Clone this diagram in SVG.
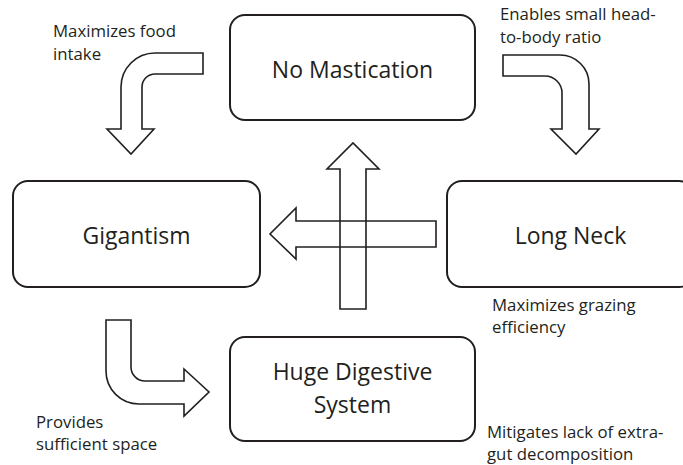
<svg xmlns="http://www.w3.org/2000/svg" width="683" height="465" viewBox="0 0 683 465">
<style>
.box{fill:#fff;stroke:#231f20;stroke-width:2}
.lbl{font-family:"Open Sans","Noto Sans",sans-serif;font-size:23px;fill:#231f20;text-anchor:middle}
.note{font-family:"Open Sans","Noto Sans",sans-serif;font-size:16.8px;fill:#231f20}
.arr{fill:none;stroke:#231f20;stroke-width:1.6;stroke-linejoin:miter}
</style>
<rect width="683" height="465" fill="#fff"/>
<g id="connectors">
<path class="arr" d="M203,53 H155 A34,34 0 0 0 121,87 V129 H107 L131,154 L154,129 H142 V87 A13,13 0 0 1 155,74 H203 Z"/>
<path class="arr" d="M503,55 H560 A29,29 0 0 1 589,84 V129 H599 L576,154 L551,129 H562 V93 A17,17 0 0 0 545,76 H503 Z"/>
<path class="arr" d="M106,320 V371 A33,33 0 0 0 139,404 H184 V416 L209,392 L184,369 V381 H145 A14,14 0 0 1 131,367 V320 Z"/>
<path class="arr" d="M340,309 V169 H327 L353,143 L379,169 H366 V309 Z"/>
<path class="arr" d="M436,221 H296 V208 L270,234 L296,259 V247 H436 Z"/>
</g>
<g id="no-mastication">
<rect class="box" x="230" y="15" width="245" height="105" rx="15"/>
<text class="lbl" x="352.5" y="78">No Mastication</text>
</g>
<g id="gigantism">
<rect class="box" x="13" y="181" width="247" height="106" rx="15"/>
<text class="lbl" x="136.5" y="244">Gigantism</text>
</g>
<g id="long-neck">
<rect class="box" x="447" y="181" width="247" height="106" rx="15"/>
<text class="lbl" x="570.5" y="244">Long Neck</text>
</g>
<g id="huge-digestive-system">
<rect class="box" x="230" y="337" width="245" height="104" rx="15"/>
<text class="lbl" x="352.5" y="380">Huge Digestive</text>
<text class="lbl" x="352.5" y="413">System</text>
</g>
<g id="notes">
<text class="note" x="53" y="37">Maximizes food</text>
<text class="note" x="53" y="60">intake</text>
<text class="note" x="500" y="20">Enables small head-</text>
<text class="note" x="500" y="43">to-body ratio</text>
<text class="note" x="492" y="311">Maximizes grazing</text>
<text class="note" x="492" y="333">efficiency</text>
<text class="note" x="36" y="428">Provides</text>
<text class="note" x="36" y="450">sufficient space</text>
<text class="note" x="487" y="438">Mitigates lack of extra-</text>
<text class="note" x="487" y="460">gut decomposition</text>
</g>
</svg>
